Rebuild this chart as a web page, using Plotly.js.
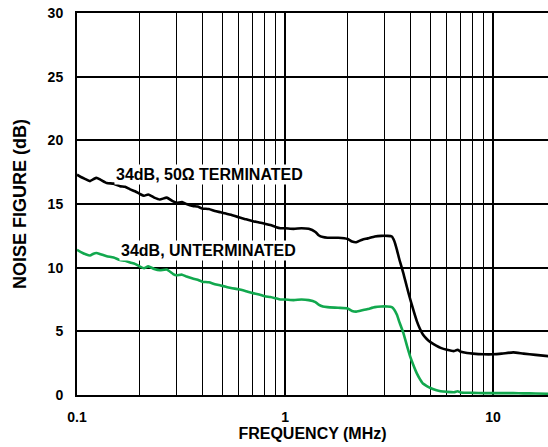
<!DOCTYPE html>
<html>
<head>
<meta charset="utf-8">
<script src="https://cdn.plot.ly/plotly-3.0.1.min.js"></script>
<style>html,body{margin:0;padding:0;background:#fff;}#chart{width:548px;height:447px;}</style>
</head>
<body>
<div id="chart"></div>
<script>
// Frequency (MHz)
var freq = [0.1, 0.105, 0.11, 0.1155, 0.12, 0.124, 0.13, 0.139, 0.15, 0.161, 0.17, 0.18, 0.19, 0.2, 0.21, 0.22, 0.235, 0.25, 0.27, 0.29, 0.3, 0.32, 0.336, 0.36, 0.38, 0.4, 0.43, 0.46, 0.49, 0.52, 0.55, 0.6, 0.65, 0.7, 0.75, 0.8, 0.85, 0.9, 0.95, 1.0, 1.1, 1.2, 1.3, 1.4, 1.45, 1.52, 1.6, 1.8, 2.0, 2.1, 2.2, 2.35, 2.5, 2.7, 2.9, 3.1, 3.26, 3.35, 3.45, 3.55, 3.7, 3.85, 4.0, 4.15, 4.3, 4.45, 4.6, 4.8, 5.0, 5.3, 5.6, 6.0, 6.5, 6.75, 7.0, 7.5, 8.0, 9.0, 10, 11, 12.5, 14, 16, 18.4];
// Noise figure (dB), 34dB gain, 50 ohm terminated
var nfTerminated = [17.3, 17.1, 16.95, 16.8, 16.95, 17.05, 16.9, 16.65, 16.6, 16.4, 16.35, 16.15, 16.0, 15.8, 15.65, 15.75, 15.5, 15.35, 15.5, 15.2, 15.1, 15.15, 15.0, 14.85, 14.8, 14.65, 14.6, 14.45, 14.35, 14.25, 14.15, 13.95, 13.8, 13.65, 13.55, 13.45, 13.35, 13.2, 13.1, 13.1, 13.05, 13.1, 13.05, 12.8, 12.55, 12.4, 12.35, 12.35, 12.25, 12.05, 12.0, 12.2, 12.3, 12.45, 12.5, 12.5, 12.45, 12.1, 11.4, 10.6, 9.6, 8.5, 7.5, 6.6, 5.8, 5.2, 4.75, 4.4, 4.15, 3.9, 3.7, 3.55, 3.45, 3.55, 3.4, 3.3, 3.25, 3.2, 3.2, 3.25, 3.35, 3.25, 3.15, 3.05];
// Noise figure (dB), 34dB gain, unterminated
var nfUnterminated = [11.4, 11.2, 11.05, 10.95, 11.1, 11.15, 11.05, 10.9, 10.8, 10.6, 10.55, 10.4, 10.3, 10.1, 9.95, 10.1, 9.9, 9.8, 9.85, 9.5, 9.4, 9.45, 9.3, 9.15, 9.05, 8.9, 8.85, 8.7, 8.6, 8.5, 8.4, 8.3, 8.15, 8.0, 7.9, 7.75, 7.7, 7.6, 7.5, 7.5, 7.45, 7.5, 7.45, 7.3, 7.1, 6.95, 6.9, 6.85, 6.8, 6.6, 6.55, 6.65, 6.75, 6.9, 6.95, 6.95, 6.9, 6.7, 6.3, 5.7, 4.9, 3.9, 3.0, 2.3, 1.7, 1.25, 0.9, 0.7, 0.55, 0.4, 0.3, 0.25, 0.22, 0.3, 0.2, 0.18, 0.17, 0.15, 0.15, 0.15, 0.15, 0.13, 0.12, 0.1];

var xMajorTicks = [0.1, 1, 10];
var xMajorLabels = ['0.1', '1', '10'];
var xMinorTicks = [0.2, 0.3, 0.4, 0.5, 0.6, 0.7, 0.8, 0.9, 2, 3, 4, 5, 6, 7, 8, 9];
var yTicks = [0, 5, 10, 15, 20, 25, 30];
var yLabels = ['0', '5', '10', '15', '20', '25', '30'];

var labelTerminated = '34dB, 50\u03A9 TERMINATED';
var labelUnterminated = '34dB, UNTERMINATED';

var FONT = 'Liberation Sans, Arial, sans-serif';
function bold(s) { return '<b>' + s + '</b>'; }

var traces = [
  {x: freq, y: nfTerminated, type: 'scatter', mode: 'lines',
   line: {color: '#000000', width: 2.6, shape: 'spline', smoothing: 0.5}, hoverinfo: 'skip'},
  {x: freq, y: nfUnterminated, type: 'scatter', mode: 'lines',
   line: {color: '#12a84e', width: 2.6, shape: 'spline', smoothing: 0.5}, hoverinfo: 'skip'}
];

var layout = {
  width: 548, height: 447,
  margin: {l: 77, r: 0, t: 13, b: 52},
  paper_bgcolor: '#ffffff', plot_bgcolor: '#ffffff',
  showlegend: false,
  font: {family: FONT, color: '#000', size: 14},
  xaxis: {
    type: 'log', range: [-1, 1.264], autorange: false,
    tickmode: 'array', tickvals: xMajorTicks, ticktext: xMajorLabels.map(bold),
    showgrid: true, gridcolor: '#000', gridwidth: 2,
    minor: {tickmode: 'array', tickvals: xMinorTicks, showgrid: true, gridcolor: '#000', gridwidth: 1, ticks: ''},
    showline: true, linecolor: '#000', linewidth: 2, mirror: true,
    ticks: '', ticklabelstandoff: 8,
    tickfont: {family: FONT, size: 14, color: '#000', weight: 700},
    zeroline: false,
    title: {text: bold('FREQUENCY (MHz)'), font: {family: FONT, size: 16, color: '#000'}, standoff: 3}
  },
  yaxis: {
    range: [0, 30], autorange: false,
    tickmode: 'array', tickvals: yTicks, ticktext: yLabels.map(bold),
    showgrid: true, gridcolor: '#000', gridwidth: 2,
    showline: true, linecolor: '#000', linewidth: 2,
    ticks: '', ticklabelstandoff: 9,
    tickfont: {family: FONT, size: 14, color: '#000', weight: 700},
    zeroline: false,
    title: {text: bold('NOISE FIGURE (dB)'), font: {family: FONT, size: 18, color: '#000'}, standoff: 16}
  },
  annotations: [
    {x: Math.log10(0.4315), y: 17.35, xref: 'x', yref: 'y', text: bold(labelTerminated),
     showarrow: false, font: {family: FONT, size: 16, color: '#000'}, bgcolor: '#ffffff', borderpad: 1},
    {x: Math.log10(0.4266), y: 11.35, xref: 'x', yref: 'y', text: bold(labelUnterminated),
     showarrow: false, font: {family: FONT, size: 16, color: '#000'}, bgcolor: '#ffffff', borderpad: 1}
  ]
};

Plotly.newPlot('chart', traces, layout, {displayModeBar: false, staticPlot: true});
</script>
</body>
</html>
